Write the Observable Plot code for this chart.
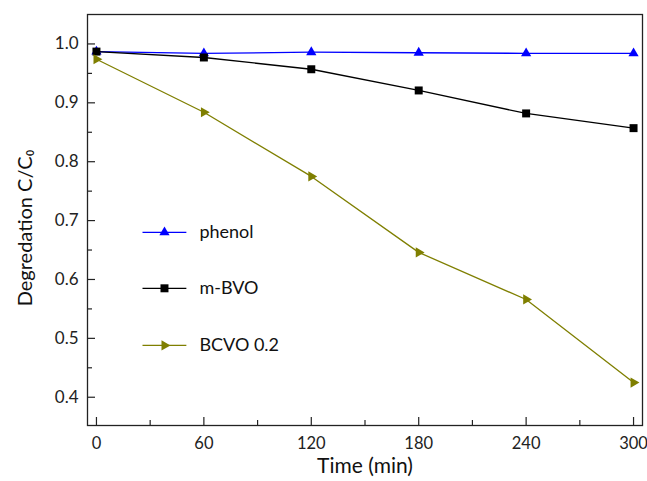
<!DOCTYPE html>
<html><head><meta charset="utf-8">
<script src="https://cdn.jsdelivr.net/npm/d3@7"></script>
<script src="https://cdn.jsdelivr.net/npm/@observablehq/plot@0.6"></script>
<style>body{margin:0;background:#fff;} svg{font-family:Lato,"Open Sans",sans-serif;}</style>
</head><body><div id="chart"></div>
<script>
const times = [0, 60, 120, 180, 240, 300];
const phenol = [0.987, 0.984, 0.986, 0.985, 0.984, 0.984];
const mBVO = [0.987, 0.977, 0.957, 0.921, 0.882, 0.857];
const bcvo = [0.974, 0.884, 0.775, 0.646, 0.566, 0.425];
const seriesNames = ["phenol", "m-BVO", "BCVO 0.2"];
const seriesColors = ["#0000ff", "#000000", "#7f7f00"];
const xTicks = [0, 60, 120, 180, 240, 300];
const xMinor = [30, 90, 150, 210, 270];
const yTicks = [0.4, 0.5, 0.6, 0.7, 0.8, 0.9, 1.0];
const yMinor = [0.45, 0.55, 0.65, 0.75, 0.85, 0.95];

const seriesVals = [phenol, mBVO, bcvo];
const data = [];
seriesNames.forEach((s, i) => times.forEach((t, j) => data.push({series: s, t, v: seriesVals[i][j]})));
const legendY = [0.680, 0.585, 0.488];
const legend = seriesNames.map((s, i) => ({series: s, y: legendY[i]}));
const color = {domain: seriesNames, range: seriesColors};

const W = 647, H = 481, mL = 87, mT = 14, mR = 5, mB = 56;
const fw = W - mL - mR, fh = H - mT - mB;

const triR = 3.8, sqR = 4.5;
const dotOpts = (name, extra) => ({x: "t", y: "v", fill: seriesColors[seriesNames.indexOf(name)], ...extra});

const plot = Plot.plot({
  width: W, height: H,
  marginLeft: mL, marginTop: mT, marginRight: mR, marginBottom: mB,
  x: {domain: [-5, 305]},
  y: {domain: [0.352, 1.05]},
  style: {fontSize: "17px", color: "#222"},
  marks: [
    Plot.frame({stroke: "#222", strokeWidth: 1.3}),
    Plot.tickX(xTicks, {x: d => d, insetTop: fh - 8, stroke: "#222", strokeWidth: 1.2}),
    Plot.tickX(xMinor, {x: d => d, insetTop: fh - 5, stroke: "#222", strokeWidth: 1.2}),
    Plot.tickY(yTicks, {y: d => d, insetRight: fw - 8, stroke: "#222", strokeWidth: 1.2}),
    Plot.tickY(yMinor, {y: d => d, insetRight: fw - 5, stroke: "#222", strokeWidth: 1.2}),
    Plot.axisX(xTicks, {tickSize: 0, tickPadding: 12, fontSize: 16.5, fill: "#222", label: null, tickFormat: d => String(d)}),
    Plot.axisY(yTicks, {tickSize: 0, tickPadding: 9, fontSize: 17, fill: "#222", label: null, tickFormat: d => d.toFixed(1)}),
    Plot.line(data, {x: "t", y: "v", z: "series", stroke: "series", strokeWidth: 1.3}),
    Plot.dot(data.filter(d => d.series === "phenol"), dotOpts("phenol", {symbol: "triangle", r: triR})),
    Plot.dot(data.filter(d => d.series === "m-BVO"), dotOpts("m-BVO", {symbol: "square", r: sqR})),
    Plot.dot(data.filter(d => d.series === "BCVO 0.2"), dotOpts("BCVO 0.2", {symbol: "triangle", r: triR, rotate: 90})),
    Plot.ruleY(legend, {y: "y", x1: 26, x2: 50.5, stroke: "series", strokeWidth: 1.3}),
    Plot.dot(legend.filter(d => d.series === "phenol"), {x: 38, y: "y", symbol: "triangle", r: triR, fill: seriesColors[0]}),
    Plot.dot(legend.filter(d => d.series === "m-BVO"), {x: 38, y: "y", symbol: "square", r: sqR, fill: seriesColors[1]}),
    Plot.dot(legend.filter(d => d.series === "BCVO 0.2"), {x: 38, y: "y", symbol: "triangle", r: triR, rotate: 90, fill: seriesColors[2]}),
    Plot.text(legend, {x: 57.5, y: "y", text: "series", textAnchor: "start", fontSize: 18, fill: "#111"}),
    Plot.text(["Time (min)"], {frameAnchor: "bottom", dy: 47, fontSize: 21, fill: "#111"}),
    Plot.text(["Degredation C/C\u2080"], {frameAnchor: "left", textAnchor: "middle", dx: -62, dy: 8, rotate: -90, fontSize: 20, fill: "#111"})
  ],
  color
});
document.getElementById("chart").appendChild(plot);
</script></body></html>
